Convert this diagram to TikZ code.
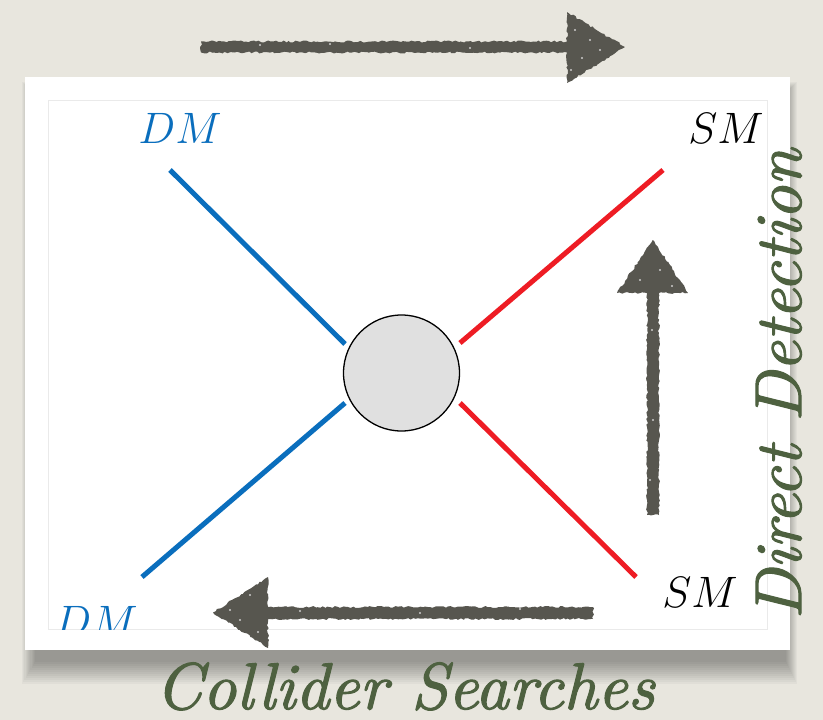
\RequirePackage{fix-cm}
\documentclass[tikz,border=0pt]{standalone}
\usepackage{fontspec}
\usetikzlibrary{decorations.pathmorphing}

% heavier italic for the two captions
\newfontfamily\capfont{lmroman10-italic.otf}[FakeBold=1.6]

\definecolor{paper}{HTML}{E8E6DE}
\definecolor{chalk}{HTML}{57564F}
\definecolor{dmblue}{HTML}{0A6EBD}
\definecolor{smred}{HTML}{EE1C24}
\definecolor{olive}{HTML}{4E6140}
\definecolor{blobgray}{HTML}{E0E0E0}
\definecolor{framegray}{HTML}{EAEAEA}

\tikzset{
  leg/.style={line width=5pt},
  dmleg/.style={leg, draw=dmblue},
  smleg/.style={leg, draw=smred},
  lbl/.style={font=\fontsize{44}{50}\selectfont, inner sep=0pt},
  chalkarrow/.style={fill=chalk, decorate,
    decoration={random steps, segment length=2.5pt, amplitude=1pt}},
  speck/.style={fill=white, opacity=0.7},
  caption/.style={font=\fontsize{66}{72}\capfont, text=olive, inner sep=0pt},
  blobstyle/.style={circle, draw=black, line width=1.3pt, fill=blobgray,
    minimum size=116pt, inner sep=0pt},
}

\begin{document}
\begin{tikzpicture}[x=1pt,y=-1pt]
\useasboundingbox (0,0) rectangle (823,720);
% paper background
\fill[paper] (0,0) rectangle (823,720);

% soft shadow under the card
\foreach \i in {0,...,11}
  \fill[black, opacity=0.03] (22+\i*1.2, 82+\i*1.0) rectangle (797-\i*1.0, 684-\i*2.0);

% card and its inner frame
\fill[white] (25,77) rectangle (790,650);
\draw[framegray, line width=1pt] (48,100) rectangle (767,629);

% leg end points
\coordinate (dmAout) at (170,170);
\coordinate (dmAin)  at (345,344);
\coordinate (dmBout) at (142,577);
\coordinate (dmBin)  at (345,403);
\coordinate (smAout) at (663,170);
\coordinate (smAin)  at (460,343);
\coordinate (smBout) at (636,577);
\coordinate (smBin)  at (460,403);

\draw[dmleg] (dmAout) -- (dmAin);
\draw[dmleg] (dmBout) -- (dmBin);
\draw[smleg] (smAout) -- (smAin);
\draw[smleg] (smBout) -- (smBin);

% interaction blob
\node[blobstyle] (blob) at (401.5,373) {};

% particle labels
\node[lbl, text=dmblue] (dmtop) at (180,128) {$DM$};
\node[lbl] (smtop) at (726,128) {$SM$};
\node[lbl] (smbot) at (700,592) {$SM$};
\begin{scope}
  \clip (48,100) rectangle (767,629);
  \node[lbl, text=dmblue] (dmbot) at (96,621) {$DM$};
\end{scope}

% chalk arrows
\pgfmathsetseed{7}
\fill[chalkarrow] (201,41.5) -- (567,41.5) -- (567,12) -- (625,47)
  -- (567,83) -- (567,52.5) -- (201,52.5) -- cycle;
\fill[chalkarrow] (647,515) -- (647,293) -- (617,293) -- (653,240)
  -- (688,293) -- (659,293) -- (659,515) -- cycle;
\fill[chalkarrow] (593,607) -- (268,607) -- (268,577) -- (213,612.5)
  -- (268,648) -- (268,619) -- (593,619) -- cycle;

% chalk speckles
\foreach \p in {(575,30),(582,58),(590,40),(571,70),(600,50),(260,45),(330,44),(470,48),
                (640,280),(660,270),(672,286),(652,330),(653,420),(650,480),
                (250,595),(240,620),(258,632),(230,610),(300,611),(420,613),(520,609)}
  \fill[speck] \p circle (1.1pt);

% captions
\node[caption, anchor=base] (collider) at (405,709) {Collider Searches};
\node[caption, anchor=base, rotate=90] (direct) at (801,384) {Direct Detection};
\end{tikzpicture}
\end{document}
